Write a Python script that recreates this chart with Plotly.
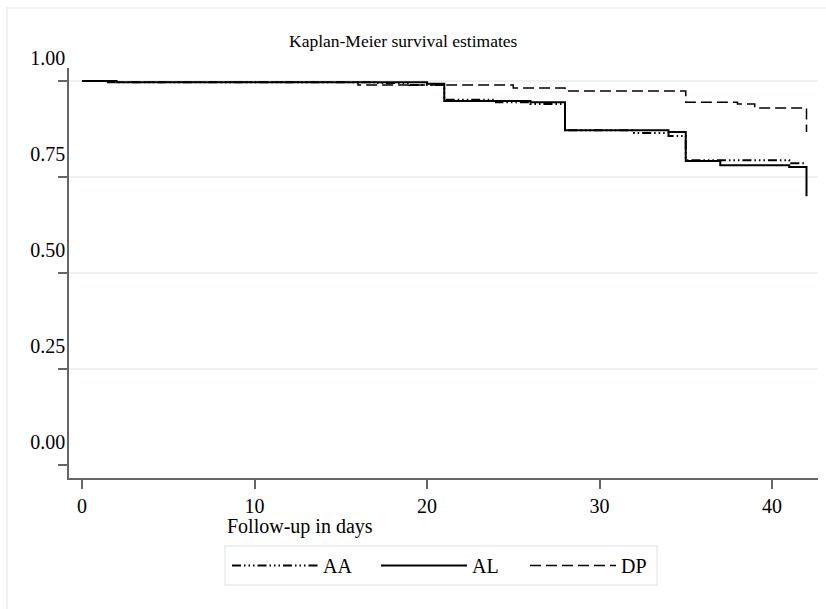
import plotly.graph_objects as go

# Kaplan-Meier step estimates by treatment arm (time in days, survival probability)
AA_days = [0, 1.5, 17, 19, 21, 24, 26, 28, 32, 34, 35, 41, 42]
AA_surv = [1.0, 0.997, 0.995, 0.990, 0.951, 0.945, 0.940, 0.872, 0.865, 0.857, 0.794, 0.786, 0.786]

AL_days = [0, 2, 20, 21, 26, 28, 34, 35, 37, 41, 42]
AL_surv = [1.0, 0.997, 0.993, 0.948, 0.945, 0.872, 0.867, 0.792, 0.781, 0.776, 0.700]

DP_days = [0, 2, 16, 25, 28, 35, 38, 39, 42]
DP_surv = [1.0, 0.997, 0.990, 0.982, 0.974, 0.945, 0.940, 0.930, 0.867]

x_ticks = [0, 10, 20, 30, 40]
y_ticks = [0.0, 0.25, 0.5, 0.75, 1.0]
y_grid = [0.25, 0.5, 0.75, 1.0]

SERIF = "Liberation Serif, Times New Roman, serif"
AXIS_GREY = "#666666"
GRID_COLOR = "#e6ecef"

fig = go.Figure()
fig.add_trace(go.Scatter(
    x=AA_days, y=AA_surv, name="AA", mode="lines", line_shape="hv",
    line=dict(color="black", width=2, dash="9px,3px,1.5px,3px,1.5px,3px,1.5px,3px"),
))
fig.add_trace(go.Scatter(
    x=AL_days, y=AL_surv, name="AL", mode="lines", line_shape="hv",
    line=dict(color="black", width=2),
))
fig.add_trace(go.Scatter(
    x=DP_days, y=DP_surv, name="DP", mode="lines", line_shape="hv",
    line=dict(color="black", width=1.5, dash="11px,5px"),
))

shapes = []
# horizontal grid lines
for g in y_grid:
    shapes.append(dict(type="line", xref="paper", yref="y", x0=0, x1=1, y0=g, y1=g,
                       line=dict(color=GRID_COLOR, width=1.5), layer="below"))
# outer frame of the graph region
shapes.append(dict(type="rect", xref="paper", yref="paper",
                   x0=-0.0828, x1=1.02, y0=-0.35, y1=1.1463,
                   line=dict(color=GRID_COLOR, width=1.5), fillcolor="rgba(0,0,0,0)", layer="below"))
# legend box
shapes.append(dict(type="rect", xref="paper", yref="paper",
                   x0=(225 - 69) / 749, x1=(657 - 69) / 749,
                   y0=(478 - 585) / 410, y1=(478 - 546) / 410,
                   line=dict(color=GRID_COLOR, width=1.5), fillcolor="white", layer="below"))

fig.update_layout(
    width=826, height=609,
    margin=dict(l=69, r=8, t=68, b=131),
    paper_bgcolor="white", plot_bgcolor="white",
    font=dict(family=SERIF, size=20, color="black"),
    showlegend=True,
    legend=dict(
        orientation="h", x=(227 - 69) / 749, xanchor="left",
        y=(478 - 565.5) / 410, yanchor="middle",
        bgcolor="rgba(0,0,0,0)", borderwidth=0,
        itemwidth=86, entrywidth=48, entrywidthmode="pixels",
        font=dict(family=SERIF, size=20, color="black"),
    ),
    shapes=shapes,
    annotations=[
        dict(text="Kaplan-Meier survival estimates", xref="paper", yref="paper",
             x=(403 - 69) / 749, y=(478 - 41) / 410, xanchor="center", yanchor="middle",
             showarrow=False, font=dict(family=SERIF, size=17.5, color="black")),
        dict(text="Follow-up in days", xref="paper", yref="paper",
             x=(300 - 69) / 749, y=(478 - 526) / 410, xanchor="center", yanchor="middle",
             showarrow=False, font=dict(family=SERIF, size=20, color="black")),
    ],
)

fig.update_xaxes(
    range=[(69 - 82) / 17.25, (818 - 82) / 17.25],
    tickvals=x_ticks, ticktext=[str(v) for v in x_ticks],
    showgrid=False, zeroline=False,
    showline=True, linecolor=AXIS_GREY, linewidth=1.5,
    ticks="outside", ticklen=9, tickcolor=AXIS_GREY, tickwidth=1.5,
    tickfont=dict(family=SERIF, size=20, color="black"),
)
fig.update_yaxes(
    range=[-0.034, 1.034],
    tickvals=y_ticks, ticktext=[f"{v:.2f}" for v in y_ticks],
    showgrid=False, zeroline=False,
    showline=True, linecolor=AXIS_GREY, linewidth=1.5,
    ticks="outside", ticklen=9, tickcolor=AXIS_GREY, tickwidth=1.5,
    ticklabelshift=-23, ticklabelstandoff=-11,
    tickfont=dict(family=SERIF, size=20, color="black"),
)

fig.write_html("out.html")
